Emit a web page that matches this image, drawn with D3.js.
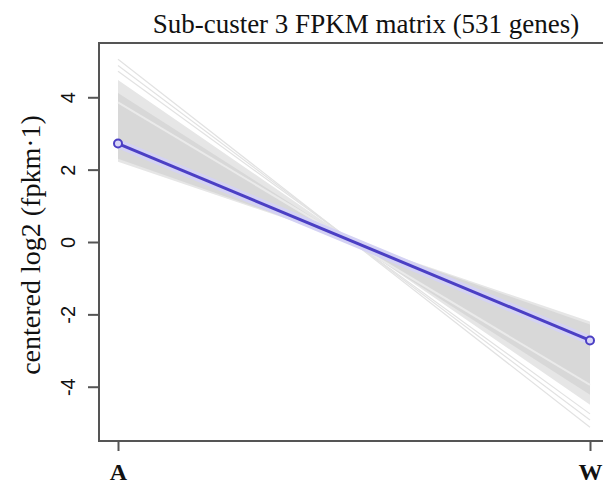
<!DOCTYPE html>
<html>
<head>
<meta charset="utf-8">
<script src="https://cdn.jsdelivr.net/npm/d3@7"></script>
<style>
  body { margin: 0; background: #fff; }
  svg { display: block; }
</style>
</head>
<body>
<script>
"use strict";

// conditions on the x axis
var conditions = ["A", "W"];

// mean centered log2 expression of the sub-cluster
var meanExpr = [2.72, -2.72];

// spread of the 531 gene profiles (outer and inner envelope), per condition
var outerLow = [2.22, -2.2];
var outerHigh = [4.48, -4.5];
var innerLow = [2.3, -2.28];
var innerHigh = [4.12, -4.22];

// a few sparse gene profiles outside the envelope
var sparseA = [4.72, 4.88, 5.05];
var sparseW = [-4.75, -4.92, -5.12];

// light streak inside the band
var streakA = [3.86];
var streakW = [-3.95];

var yTicks = [-4, -2, 0, 2, 4];

var width = 603, height = 486;
var margin = {left: 99, top: 43, bottom: 441};

var svg = d3.select("body").append("svg")
    .attr("width", width)
    .attr("height", height);

var xScale = d3.scalePoint()
    .domain(conditions)
    .range([118, 590]);

var yScale = d3.scaleLinear()
    .domain([-5.5, 5.5])
    .range([margin.bottom, margin.top]);

// bowtie shaped envelope: low at A joins high at W through the crossing
function band(low, high) {
    var pts = [
        [xScale("A"), yScale(low[0])],
        [xScale("A"), yScale(high[0])],
        [xScale("W"), yScale(high[1])],
        [xScale("W"), yScale(low[1])]
    ];
    return d3.line()(pts) + "Z";
}

svg.append("path")
    .attr("d", band(outerLow, outerHigh))
    .attr("fill", "#e6e6e6");

svg.append("path")
    .attr("d", band(innerLow, innerHigh))
    .attr("fill", "#d8d8d8");

// streak lines
streakA.forEach(function(v, i) {
    svg.append("line")
        .attr("x1", xScale("A")).attr("y1", yScale(v))
        .attr("x2", xScale("W")).attr("y2", yScale(streakW[i]))
        .attr("stroke", "#eaeaea")
        .attr("stroke-width", 2);
});

// sparse gene lines
sparseA.forEach(function(v, i) {
    svg.append("line")
        .attr("x1", xScale("A")).attr("y1", yScale(v))
        .attr("x2", xScale("W")).attr("y2", yScale(sparseW[i]))
        .attr("stroke", "#e2e2e2")
        .attr("stroke-width", 1.2);
});

// mean profile with a soft halo
var meanLine = d3.line()
    .x(function(d, i) { return xScale(conditions[i]); })
    .y(function(d) { return yScale(d); });

svg.append("path")
    .attr("d", meanLine(meanExpr))
    .attr("fill", "none")
    .attr("stroke", "#d4d2f4")
    .attr("stroke-width", 9);

svg.append("path")
    .attr("d", meanLine(meanExpr))
    .attr("fill", "none")
    .attr("stroke", "#4b3fc4")
    .attr("stroke-width", 3);

svg.selectAll(".pt")
    .data(meanExpr)
    .enter().append("circle")
    .attr("class", "pt")
    .attr("cx", function(d, i) { return xScale(conditions[i]); })
    .attr("cy", function(d) { return yScale(d); })
    .attr("r", 4)
    .attr("fill", "#d8d6f6")
    .attr("stroke", "#4b3fc4")
    .attr("stroke-width", 2);

// frame: left, top and bottom lines
var frameColor = "#555";
svg.append("path")
    .attr("d", "M" + width + "," + margin.top + "H" + margin.left + "V" + margin.bottom + "H" + width)
    .attr("fill", "none")
    .attr("stroke", frameColor)
    .attr("stroke-width", 2);

// y axis
var yAxis = svg.append("g")
    .attr("transform", "translate(" + margin.left + ",0)")
    .call(d3.axisLeft(yScale).tickValues(yTicks).tickSize(11).tickPadding(0).tickFormat(d3.format("d")));
yAxis.select(".domain").remove();
yAxis.selectAll(".tick line").attr("stroke", frameColor).attr("stroke-width", 2);
yAxis.selectAll(".tick text")
    .attr("transform", "translate(-31,0) rotate(-90)")
    .attr("x", 0).attr("dy", "0.35em")
    .attr("text-anchor", "middle")
    .attr("fill", "#111")
    .text(function(d) { return String(d); })
    .style("font-family", "Liberation Sans, Arial, sans-serif")
    .style("font-size", "20px");

// x axis
var xAxis = svg.append("g")
    .attr("transform", "translate(0," + margin.bottom + ")")
    .call(d3.axisBottom(xScale).tickSize(10).tickPadding(12));
xAxis.select(".domain").remove();
xAxis.selectAll(".tick line").attr("stroke", frameColor).attr("stroke-width", 2);
xAxis.selectAll(".tick text")
    .attr("fill", "#111")
    .style("font-family", "Liberation Serif, Times New Roman, serif")
    .style("font-weight", "bold")
    .style("font-size", "24px");

// title and axis label
svg.append("text")
    .attr("x", 366)
    .attr("y", 33)
    .attr("text-anchor", "middle")
    .style("font-family", "Liberation Serif, Times New Roman, serif")
    .style("font-size", "27px")
    .attr("fill", "#111")
    .text("Sub-custer 3 FPKM matrix (531 genes)");

svg.append("text")
    .attr("transform", "translate(40,245) rotate(-90)")
    .attr("text-anchor", "middle")
    .style("font-family", "Liberation Serif, Times New Roman, serif")
    .style("font-size", "28px")
    .attr("fill", "#111")
    .text("centered log2 (fpkm·1)");
</script>
</body>
</html>
